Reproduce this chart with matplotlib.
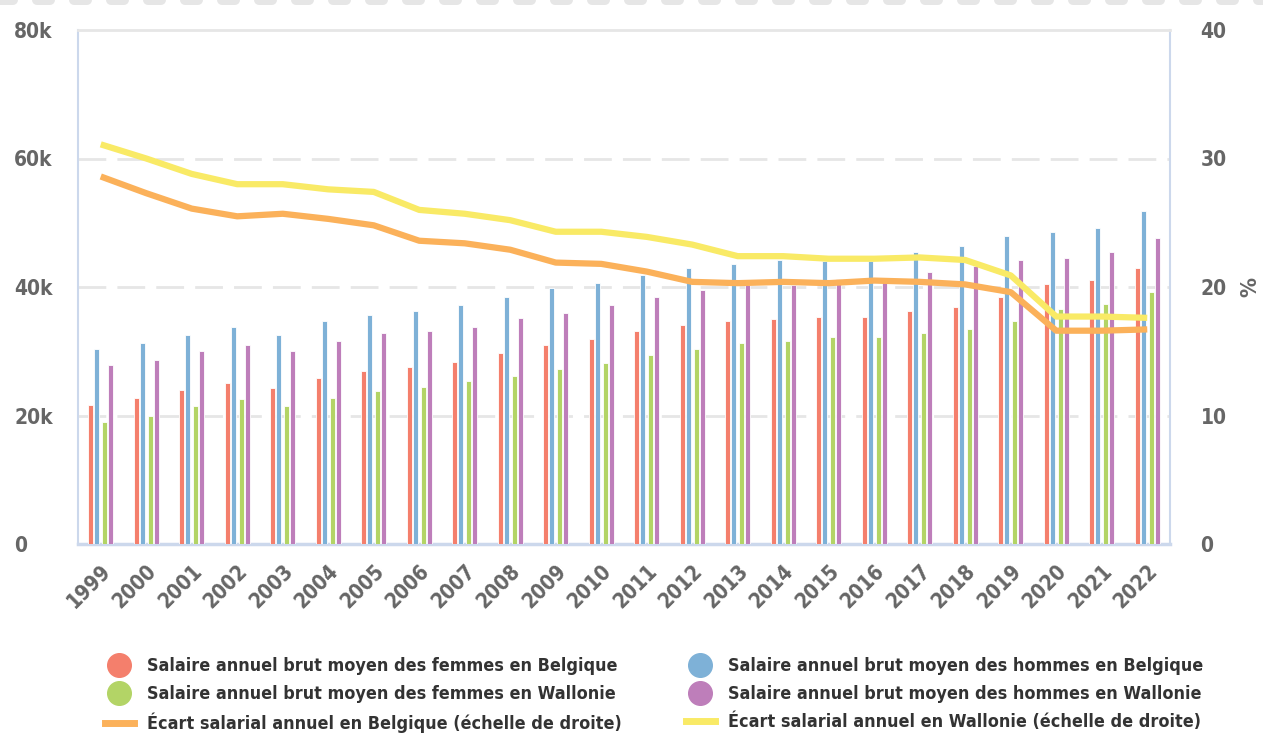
import matplotlib
matplotlib.use("Agg")
import matplotlib.pyplot as plt
import numpy as np
from matplotlib.lines import Line2D
from matplotlib.ticker import FixedLocator
from matplotlib import font_manager as fm

years = [str(y) for y in range(1999, 2023)]
femmes_be = [21.6, 22.8, 24.0, 25.0, 24.3, 25.9, 26.9, 27.5, 28.4, 29.7, 31.0, 31.9,
             33.1, 34.1, 34.7, 35.0, 35.3, 35.4, 36.3, 36.9, 38.5, 40.4, 41.1, 42.9]
hommes_be = [30.3, 31.3, 32.5, 33.8, 32.5, 34.7, 35.6, 36.3, 37.2, 38.5, 39.8, 40.7,
             41.9, 42.9, 43.6, 44.2, 44.0, 44.0, 45.4, 46.4, 48.0, 48.6, 49.2, 51.8]
femmes_wa = [19.0, 19.9, 21.5, 22.5, 21.5, 22.8, 23.8, 24.4, 25.3, 26.2, 27.2, 28.1,
             29.4, 30.3, 31.3, 31.6, 32.2, 32.2, 32.8, 33.4, 34.7, 36.6, 37.3, 39.2]
hommes_wa = [27.9, 28.7, 30.0, 31.0, 30.0, 31.6, 32.8, 33.1, 33.8, 35.1, 36.0, 37.2,
             38.5, 39.5, 40.3, 40.3, 41.3, 41.4, 42.3, 43.3, 44.2, 44.5, 45.4, 47.7]
ecart_be = [28.6, 27.3, 26.1, 25.5, 25.7, 25.3, 24.8, 23.6, 23.4, 22.9, 21.9, 21.8,
            21.2, 20.4, 20.3, 20.4, 20.3, 20.5, 20.4, 20.2, 19.6, 16.6, 16.6, 16.7]
ecart_wa = [31.1, 30.0, 28.8, 28.0, 28.0, 27.6, 27.4, 26.0, 25.7, 25.2, 24.3, 24.3,
            23.9, 23.3, 22.4, 22.4, 22.2, 22.2, 22.3, 22.1, 20.9, 17.7, 17.7, 17.6]

labels = ["Salaire annuel brut moyen des femmes en Belgique",
          "Salaire annuel brut moyen des hommes en Belgique",
          "Salaire annuel brut moyen des femmes en Wallonie",
          "Salaire annuel brut moyen des hommes en Wallonie",
          "Écart salarial annuel en Belgique (échelle de droite)",
          "Écart salarial annuel en Wallonie (échelle de droite)"]

c_red, c_blue, c_green, c_purple = "#f47f6c", "#7eb1d7", "#b3d466", "#be7eba"
c_orange, c_yellow = "#fbb15a", "#f9ea66"

# choose a narrow bold font if one is installed
names = {f.name for f in fm.fontManager.ttflist}
cond = None
for f in fm.fontManager.ttflist:
    if f.weight in ("bold", 700) and ("Narrow" in f.fname or "Condensed" in f.fname):
        cond = f.fname
        break
scale = 1.0
if "Liberation Sans Narrow" in names:
    FONT = ["Liberation Sans Narrow", "DejaVu Sans"]
elif cond is not None:
    nm = fm.FontProperties(fname=cond).get_name()
    FONT = [nm, "DejaVu Sans"]
    plt.rcParams['font.stretch'] = 'condensed'
else:
    FONT = ["Roboto", "DejaVu Sans"]
    scale = 0.88
plt.rcParams['font.family'] = FONT
plt.rcParams['font.weight'] = 'bold'

fig = plt.figure(figsize=(12.63, 7.38), dpi=100)
ax = fig.add_axes([78/1263, 1-544/738, (1170-78)/1263, (544-30)/738])

x = np.arange(len(years))
w = 0.1
offs = [-0.22, -0.088, 0.088, 0.22]
series = [(femmes_be, c_red), (hommes_be, c_blue), (femmes_wa, c_green), (hommes_wa, c_purple)]
for (vals, col), o in zip(series, offs):
    ax.bar(x + o, np.array(vals) * 1000, width=w, color=col, edgecolor="white",
           linewidth=0.6, zorder=3)

ax.set_xlim(-0.5, len(years) - 0.5)
ax.set_ylim(0, 80000)
ax.yaxis.set_major_locator(FixedLocator([0, 20000, 40000, 60000, 80000]))
ax.set_yticklabels(["0", "20k", "40k", "60k", "80k"])
ax.set_xticks(x)
ax.set_xticklabels(years, rotation=45, ha="right", rotation_mode="anchor")
ax.tick_params(axis="both", length=0, labelsize=15 * scale, labelcolor="#666666")
ax.tick_params(axis="x", pad=12)
ax.tick_params(axis="y", pad=46)
for lab in ax.get_yticklabels():
    lab.set_horizontalalignment("left")
for yv in [20000, 40000, 60000]:
    ax.axhline(yv, color="#e6e6e6", lw=2, dashes=(10, 4), zorder=1)
for s in ["left", "right"]:
    ax.spines[s].set_color("#ccd8ec")
    ax.spines[s].set_linewidth(1.5)
ax.spines["bottom"].set_color("#ccd8ec")
ax.spines["bottom"].set_linewidth(2.5)
ax.spines["top"].set_color("#e6e6e6")
ax.spines["top"].set_linewidth(2)

ax2 = ax.twinx()
ax2.plot(x, ecart_be, color=c_orange, lw=4.5, solid_capstyle="butt", zorder=4)
ax2.plot(x, ecart_wa, color=c_yellow, lw=4.5, solid_capstyle="butt", zorder=4)
ax2.set_ylim(0, 40)
ax2.yaxis.set_major_locator(FixedLocator([0, 10, 20, 30, 40]))
ax2.tick_params(axis="y", length=0, labelsize=15 * scale, labelcolor="#666666", pad=22)
ax2.set_ylabel("%", fontsize=16 * scale, color="#666666", fontweight="bold", labelpad=10)
for s in ax2.spines.values():
    s.set_visible(False)

# decorative dashes at the top
fig.add_artist(Line2D([0.0, 1.0], [1.0, 1.0], transform=fig.transFigure,
                      color="#e6e6e6", lw=7.2, dashes=(1.3, 2.4),
                      dash_capstyle="round"))

h_red = Line2D([], [], marker="o", ls="", ms=17, color=c_red)
h_green = Line2D([], [], marker="o", ls="", ms=17, color=c_green)
h_orange = Line2D([], [], color=c_orange, lw=5)
h_blue = Line2D([], [], marker="o", ls="", ms=17, color=c_blue)
h_purple = Line2D([], [], marker="o", ls="", ms=17, color=c_purple)
h_yellow = Line2D([], [], color=c_yellow, lw=5)

leg_kw = dict(frameon=False, prop={"family": FONT, "weight": "bold", "size": 12.9 * scale},
              labelcolor="#333333", handlelength=1.6, handletextpad=0.75,
              labelspacing=0.55, borderpad=0, borderaxespad=0, loc="upper left")
leg1 = fig.legend([h_red, h_green, h_orange], [labels[0], labels[2], labels[4]],
                  bbox_to_anchor=(105/1263, 1-657/738), **leg_kw)
leg2 = fig.legend([h_blue, h_purple, h_yellow], [labels[1], labels[3], labels[5]],
                  bbox_to_anchor=(686/1263, 1-657/738), **leg_kw)

fig.savefig("out.png", dpi=100)
